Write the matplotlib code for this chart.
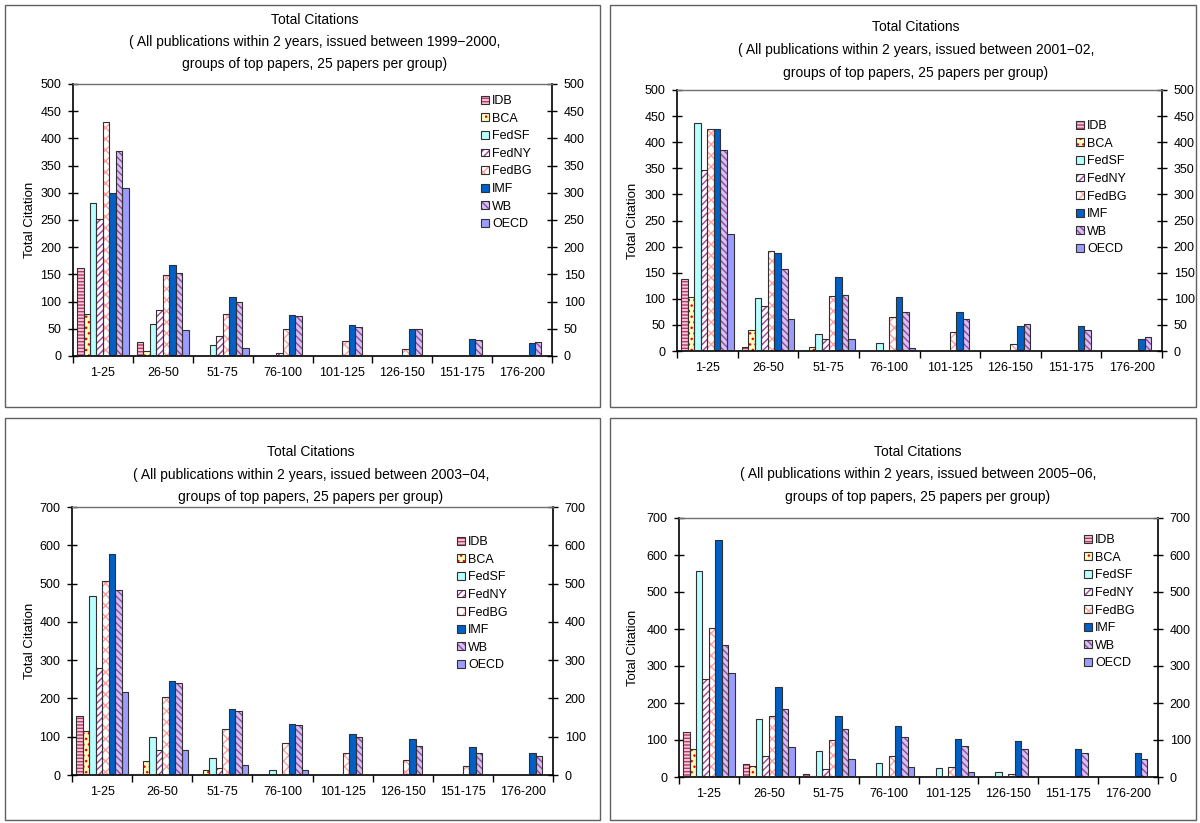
import matplotlib
matplotlib.use("Agg")
import matplotlib.pyplot as plt
import numpy as np
from matplotlib.patches import Patch, Rectangle

plt.rcParams['font.family'] = ['Liberation Sans', 'DejaVu Sans']
plt.rcParams['hatch.linewidth'] = 1.0

# ---- data ----
groups = ['1-25', '26-50', '51-75', '76-100', '101-125', '126-150', '151-175', '176-200']
series = ['IDB', 'BCA', 'FedSF', 'FedNY', 'FedBG', 'IMF', 'WB', 'OECD']

# rows follow `series`, columns follow `groups`
cites_1999_2000 = [
    [162, 26, 0, 0, 0, 0, 0, 0],
    [77, 10, 0, 0, 0, 0, 0, 0],
    [282, 59, 21, 0, 0, 0, 0, 0],
    [251, 85, 36, 6, 0, 0, 0, 0],
    [430, 149, 78, 50, 28, 12, 0, 0],
    [300, 168, 109, 76, 57, 50, 31, 23],
    [377, 153, 100, 74, 53, 50, 29, 25],
    [308, 48, 14, 0, 0, 0, 0, 0],
]
cites_2001_02 = [
    [138, 8, 0, 0, 0, 0, 0, 0],
    [103, 40, 8, 0, 0, 0, 0, 0],
    [436, 102, 33, 15, 0, 0, 0, 0],
    [347, 87, 23, 0, 0, 0, 0, 0],
    [426, 192, 106, 66, 36, 13, 0, 0],
    [426, 188, 142, 104, 74, 48, 48, 23],
    [386, 158, 108, 75, 61, 51, 40, 26],
    [224, 61, 23, 6, 0, 0, 0, 0],
]
cites_2003_04 = [
    [154, 3, 0, 0, 0, 0, 0, 0],
    [116, 37, 14, 0, 0, 0, 0, 0],
    [468, 100, 44, 14, 0, 0, 0, 0],
    [280, 66, 19, 0, 0, 0, 0, 0],
    [507, 204, 121, 84, 58, 40, 23, 0],
    [576, 246, 173, 134, 108, 95, 73, 58],
    [484, 241, 168, 131, 100, 76, 58, 50],
    [217, 66, 26, 14, 0, 0, 0, 0],
]
cites_2005_06 = [
    [121, 34, 7, 0, 0, 0, 0, 0],
    [77, 29, 4, 0, 0, 0, 0, 0],
    [556, 156, 69, 37, 25, 14, 0, 0],
    [264, 58, 21, 0, 0, 0, 0, 0],
    [402, 166, 100, 58, 28, 9, 0, 0],
    [640, 242, 166, 137, 104, 98, 75, 64],
    [356, 185, 131, 107, 85, 75, 64, 50],
    [280, 80, 50, 26, 14, 0, 0, 0],
]

# face colour, hatch colour, hatch
styles = [
    ('#f4c8d8', '#b8386a', '-----'),
    ('#ffffc0', '#ff0000', '...'),
    ('#b8ffff', None, ''),
    ('#ffffff', '#a040a0', '/////'),
    ('#ffffff', '#ffa0a0', 'xxx'),
    ('#0060c8', None, ''),
    ('#d0c4f4', '#a040a0', '\\\\\\\\\\'),
    ('#9c9cff', None, ''),
]
edge = '#303030'

W, H = 1200, 823
fig = plt.figure(figsize=(12, 8.23), dpi=100)


def frect(x0, x1, y0, y1):
    return [x0 / W, 1 - y1 / H, (x1 - x0) / W, (y1 - y0) / H]


# outer frames of the four charts
for bx0, bx1, by0, by1 in [(5, 600, 5, 407), (610, 1196, 5, 407),
                           (5, 600, 418, 820), (610, 1196, 418, 820)]:
    fig.patches.append(Rectangle((bx0 / W, 1 - by1 / H), (bx1 - bx0) / W, (by1 - by0) / H,
                                 transform=fig.transFigure, fill=False,
                                 edgecolor='#606060', linewidth=1.0))

panels = [
    (cites_1999_2000, '1999\u22122000', 500, 50, (73, 552, 84, 356), 315, (20, 42, 64), (481, 95), 30),
    (cites_2001_02, '2001\u221202', 500, 50, (677, 1162, 90, 351), 916, (27, 50, 73), (1076, 120), 633),
    (cites_2003_04, '2003\u221204', 700, 100, (72, 553, 507, 775), 311, (452, 475, 497), (457, 536), 30),
    (cites_2005_06, '2005\u221206', 700, 100, (679, 1158, 518, 777), 918, (452, 474, 497), (1084, 534), 633),
]

x = np.arange(len(groups))
bw = 0.108

for data, years, ymax, ystep, (ax0, ax1, ay0, ay1), tcx, tys, (lx, ly), ylx in panels:
    ax = fig.add_axes(frect(ax0, ax1, ay0, ay1))
    handles = []
    for i, (vals, (fc, hc, hatch)) in enumerate(zip(data, styles)):
        pos = x + (i - 3.5) * bw
        ax.bar(pos + 0.012, vals, bw, color='#b0b0b0', linewidth=0, zorder=1)
        ax.bar(pos, vals, bw, facecolor=fc, edgecolor=hc if hc else fc,
               linewidth=0, hatch=hatch, zorder=2)
        ax.bar(pos, vals, bw, facecolor='none', edgecolor=edge, linewidth=0.8, zorder=3)
        h1 = Patch(facecolor=fc, edgecolor=hc if hc else fc, hatch=hatch, linewidth=0)
        h2 = Patch(facecolor='none', edgecolor=edge, linewidth=0.8)
        handles.append((h1, h2))

    ax.set_xlim(-0.5, len(groups) - 0.5)
    ax.set_ylim(0, ymax)
    ax.set_xticks(x)
    ax.set_xticklabels(groups, fontsize=9)
    ax.set_xticks(np.arange(-0.5, len(groups)), minor=True)
    ax.tick_params(axis='x', which='major', length=0, pad=8)
    ax.tick_params(axis='x', which='minor', length=5, width=1, direction='out')
    ax.set_yticks(np.arange(0, ymax + 1, ystep))
    ax.tick_params(axis='y', which='major', direction='inout', length=7, width=1,
                   labelsize=9, left=True, right=True, labelleft=True, labelright=True, pad=5)
    for s in ['left', 'right', 'bottom']:
        ax.spines[s].set_color('black')
        ax.spines[s].set_linewidth(1.2)
    ax.spines['top'].set_color('#707070')
    ax.spines['top'].set_linewidth(1.0)

    leg = fig.legend(handles, series, loc='upper left', bbox_to_anchor=(lx / W, 1 - ly / H),
                     bbox_transform=fig.transFigure, frameon=False, fontsize=9,
                     handlelength=0.6, handleheight=0.6, handletextpad=0.3,
                     labelspacing=0.45, borderpad=0, borderaxespad=0)

    lines = ['Total Citations',
             '( All publications within 2 years, issued between ' + years + ',',
             'groups of top papers, 25 papers per group)']
    for txt, ty in zip(lines, tys):
        fig.text(tcx / W, 1 - ty / H, txt, ha='center', va='center', fontsize=10)

    fig.text(ylx / W, 1 - ((ay0 + ay1) / 2) / H, 'Total Citation', rotation=90,
             ha='center', va='center', fontsize=9.5)

fig.savefig('out.png', dpi=100)
